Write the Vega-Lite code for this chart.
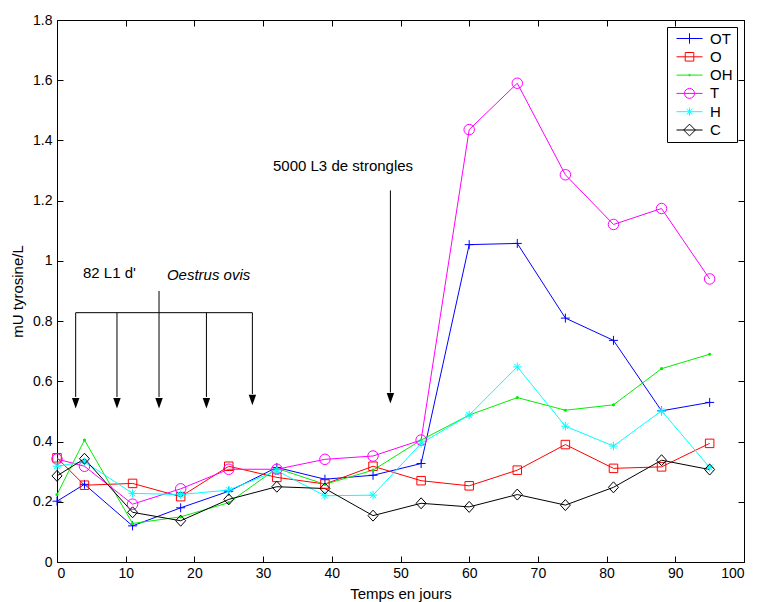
{
  "$schema": "https://vega.github.io/schema/vega-lite/v6.json",
  "width": 687,
  "height": 542,
  "autosize": {"type": "none"},
  "padding": {"left": 57, "top": 20, "right": 13, "bottom": 40},
  "background": "white",
  "config": {
    "font": "Liberation Sans",
    "view": {"stroke": null},
    "axis": {
      "domainColor": "black",
      "tickColor": "black",
      "labelColor": "black",
      "titleColor": "black",
      "grid": false,
      "labelFontSize": 14,
      "titleFontSize": 15,
      "titleFontWeight": "normal",
      "tickSize": -6,
      "domainWidth": 1,
      "tickWidth": 1
    }
  },
  "datasets": {
    "series": [
      {"day": 0, "group": "OT", "value": 0.202},
      {"day": 4, "group": "OT", "value": 0.258},
      {"day": 11, "group": "OT", "value": 0.12},
      {"day": 18, "group": "OT", "value": 0.18},
      {"day": 25, "group": "OT", "value": 0.235},
      {"day": 32, "group": "OT", "value": 0.314},
      {"day": 39, "group": "OT", "value": 0.275},
      {"day": 46, "group": "OT", "value": 0.288},
      {"day": 53, "group": "OT", "value": 0.327},
      {"day": 60, "group": "OT", "value": 1.054},
      {"day": 67, "group": "OT", "value": 1.058},
      {"day": 74, "group": "OT", "value": 0.81},
      {"day": 81, "group": "OT", "value": 0.736},
      {"day": 88, "group": "OT", "value": 0.502},
      {"day": 95, "group": "OT", "value": 0.53},
      {"day": 0, "group": "O", "value": 0.346},
      {"day": 4, "group": "O", "value": 0.255},
      {"day": 11, "group": "O", "value": 0.261},
      {"day": 18, "group": "O", "value": 0.217},
      {"day": 25, "group": "O", "value": 0.318},
      {"day": 32, "group": "O", "value": 0.281},
      {"day": 39, "group": "O", "value": 0.259},
      {"day": 46, "group": "O", "value": 0.318},
      {"day": 53, "group": "O", "value": 0.27},
      {"day": 60, "group": "O", "value": 0.253},
      {"day": 67, "group": "O", "value": 0.305},
      {"day": 74, "group": "O", "value": 0.39},
      {"day": 81, "group": "O", "value": 0.311},
      {"day": 88, "group": "O", "value": 0.316},
      {"day": 95, "group": "O", "value": 0.394},
      {"day": 0, "group": "OH", "value": 0.224},
      {"day": 4, "group": "OH", "value": 0.405},
      {"day": 11, "group": "OH", "value": 0.128},
      {"day": 18, "group": "OH", "value": 0.15},
      {"day": 25, "group": "OH", "value": 0.197},
      {"day": 32, "group": "OH", "value": 0.311},
      {"day": 39, "group": "OH", "value": 0.258},
      {"day": 46, "group": "OH", "value": 0.305},
      {"day": 53, "group": "OH", "value": 0.405},
      {"day": 60, "group": "OH", "value": 0.488},
      {"day": 67, "group": "OH", "value": 0.546},
      {"day": 74, "group": "OH", "value": 0.504},
      {"day": 81, "group": "OH", "value": 0.522},
      {"day": 88, "group": "OH", "value": 0.642},
      {"day": 95, "group": "OH", "value": 0.69},
      {"day": 0, "group": "T", "value": 0.342},
      {"day": 4, "group": "T", "value": 0.318},
      {"day": 11, "group": "T", "value": 0.192},
      {"day": 18, "group": "T", "value": 0.243},
      {"day": 25, "group": "T", "value": 0.308},
      {"day": 32, "group": "T", "value": 0.308},
      {"day": 39, "group": "T", "value": 0.341},
      {"day": 46, "group": "T", "value": 0.352},
      {"day": 53, "group": "T", "value": 0.405},
      {"day": 60, "group": "T", "value": 1.436},
      {"day": 67, "group": "T", "value": 1.59},
      {"day": 74, "group": "T", "value": 1.286},
      {"day": 81, "group": "T", "value": 1.121},
      {"day": 88, "group": "T", "value": 1.174},
      {"day": 95, "group": "T", "value": 0.94},
      {"day": 0, "group": "H", "value": 0.318},
      {"day": 4, "group": "H", "value": 0.333},
      {"day": 11, "group": "H", "value": 0.228},
      {"day": 18, "group": "H", "value": 0.224},
      {"day": 25, "group": "H", "value": 0.239},
      {"day": 32, "group": "H", "value": 0.303},
      {"day": 39, "group": "H", "value": 0.22},
      {"day": 46, "group": "H", "value": 0.222},
      {"day": 53, "group": "H", "value": 0.394},
      {"day": 60, "group": "H", "value": 0.488},
      {"day": 67, "group": "H", "value": 0.648},
      {"day": 74, "group": "H", "value": 0.451},
      {"day": 81, "group": "H", "value": 0.385},
      {"day": 88, "group": "H", "value": 0.502},
      {"day": 95, "group": "H", "value": 0.314},
      {"day": 0, "group": "C", "value": 0.286},
      {"day": 4, "group": "C", "value": 0.343},
      {"day": 11, "group": "C", "value": 0.165},
      {"day": 18, "group": "C", "value": 0.137},
      {"day": 25, "group": "C", "value": 0.208},
      {"day": 32, "group": "C", "value": 0.25},
      {"day": 39, "group": "C", "value": 0.244},
      {"day": 46, "group": "C", "value": 0.154},
      {"day": 53, "group": "C", "value": 0.195},
      {"day": 60, "group": "C", "value": 0.183},
      {"day": 67, "group": "C", "value": 0.224},
      {"day": 74, "group": "C", "value": 0.189},
      {"day": 81, "group": "C", "value": 0.248},
      {"day": 88, "group": "C", "value": 0.338},
      {"day": 95, "group": "C", "value": 0.307}
    ],
    "arrows": [
      {"x": 2.72, "top": 0.828, "bottom": 0.548, "head": 0.527},
      {"x": 8.73, "top": 0.828, "bottom": 0.548, "head": 0.527},
      {"x": 14.85, "top": 0.9, "bottom": 0.548, "head": 0.527},
      {"x": 21.75, "top": 0.828, "bottom": 0.548, "head": 0.527},
      {"x": 28.44, "top": 0.828, "bottom": 0.558, "head": 0.538},
      {"x": 48.53, "top": 1.234, "bottom": 0.563, "head": 0.544}
    ],
    "bracket": [
      {"x": 2.72, "x2": 28.44, "y": 0.828}
    ],
    "labels": [
      {"x": 3.78, "y": 0.943, "text": "82 L1 d'"},
      {"x": 31.44, "y": 1.297, "text": "5000 L3 de strongles"}
    ],
    "italic": [
      {"x": 16.0, "y": 0.937, "text": "Oestrus ovis"}
    ]
  },
  "layer": [
    {
      "data": {"name": "series"},
      "mark": {"type": "line", "strokeWidth": 1},
      "encoding": {
        "x": {
          "field": "day", "type": "quantitative",
          "scale": {"domain": [0, 100], "nice": false, "zero": false},
          "axis": {"title": "Temps en jours", "values": [0,10,20,30,40,50,60,70,80,90,100], "labelPadding": 10, "titlePadding": 6, "orient": "bottom"}
        },
        "y": {
          "field": "value", "type": "quantitative",
          "scale": {"domain": [0, 1.8], "nice": false},
          "axis": {"title": "mU tyrosine/L", "values": [0,0.2,0.4,0.6,0.8,1,1.2,1.4,1.6,1.8], "format": "~g", "labelPadding": 11, "titlePadding": 7, "orient": "left"}
        },
        "color": {
          "field": "group", "type": "nominal",
          "scale": {"domain": ["OT","O","OH","T","H","C"], "range": ["#0000ff","#ff0000","#00ee00","#ff00ff","#00ffff","#000000"]},
          "legend": {
            "title": null,
            "orient": "top-right",
            "offset": 7,
            "padding": 4,
            "strokeColor": "black",
            "fillColor": "white",
            "cornerRadius": 0,
            "symbolSize": 676,
            "symbolOffset": 5,
            "clipHeight": 15,
            "labelOffset": 7,
            "labelFontSize": 15,
            "labelColor": "black",
            "rowPadding": 2.3,
            "encode": {
              "symbols": {
                "update": {
                  "shape": {"signal": "datum.value === 'OT' ? 'M-1,0H1M0,-0.4V0.4' : datum.value === 'O' ? 'M-1,0H1M-0.33,-0.33H0.33V0.33H-0.33Z' : datum.value === 'OH' ? 'M-1,0H1M-0.06,0A0.06,0.06 0 1,1 0.06,0A0.06,0.06 0 1,1 -0.06,0Z' : datum.value === 'T' ? 'M-1,0H1M-0.385,0A0.385,0.385 0 1,1 0.385,0A0.385,0.385 0 1,1 -0.385,0Z' : datum.value === 'H' ? 'M-1,0H1M0,-0.31V0.31M-0.22,-0.22L0.22,0.22M-0.22,0.22L0.22,-0.22' : 'M-1,0H1M0,-0.45L0.45,0L0,0.45L-0.45,0Z'"},
                  "fill": {"value": "transparent"},
                  "strokeWidth": {"value": 1},
                  "opacity": {"value": 1}
                }
              }
            }
          }
        }
      }
    },
    {
      "data": {"name": "series"},
      "transform": [{"filter": {"field": "group", "equal": "OT"}}],
      "mark": {"type": "point", "filled": false, "strokeWidth": 1, "size": 100, "opacity": 1, "color": "#0000ff", "shape": "M-0.9,0H0.9M0,-0.9V0.9"},
      "encoding": {
        "x": {"field": "day", "type": "quantitative", "axis": null},
        "y": {"field": "value", "type": "quantitative", "axis": null}
      }
    },
    {
      "data": {"name": "series"},
      "transform": [{"filter": {"field": "group", "equal": "O"}}],
      "mark": {"type": "point", "filled": false, "strokeWidth": 1, "size": 100, "opacity": 1, "color": "#ff0000", "shape": "M-0.85,-0.85H0.85V0.85H-0.85Z"},
      "encoding": {
        "x": {"field": "day", "type": "quantitative", "axis": null},
        "y": {"field": "value", "type": "quantitative", "axis": null}
      }
    },
    {
      "data": {"name": "series"},
      "transform": [{"filter": {"field": "group", "equal": "OH"}}],
      "mark": {"type": "point", "filled": true, "size": 10, "opacity": 1, "color": "#00ee00", "shape": "circle"},
      "encoding": {
        "x": {"field": "day", "type": "quantitative", "axis": null},
        "y": {"field": "value", "type": "quantitative", "axis": null}
      }
    },
    {
      "data": {"name": "series"},
      "transform": [{"filter": {"field": "group", "equal": "T"}}],
      "mark": {"type": "point", "filled": false, "strokeWidth": 1, "size": 100, "opacity": 1, "color": "#ff00ff", "shape": "M-1.05,0A1.05,1.05 0 1,1 1.05,0A1.05,1.05 0 1,1 -1.05,0Z"},
      "encoding": {
        "x": {"field": "day", "type": "quantitative", "axis": null},
        "y": {"field": "value", "type": "quantitative", "axis": null}
      }
    },
    {
      "data": {"name": "series"},
      "transform": [{"filter": {"field": "group", "equal": "H"}}],
      "mark": {"type": "point", "filled": false, "strokeWidth": 1, "size": 100, "opacity": 1, "color": "#00ffff", "shape": "M-0.85,0H0.85M0,-0.85V0.85M-0.6,-0.6L0.6,0.6M-0.6,0.6L0.6,-0.6"},
      "encoding": {
        "x": {"field": "day", "type": "quantitative", "axis": null},
        "y": {"field": "value", "type": "quantitative", "axis": null}
      }
    },
    {
      "data": {"name": "series"},
      "transform": [{"filter": {"field": "group", "equal": "C"}}],
      "mark": {"type": "point", "filled": false, "strokeWidth": 1, "size": 100, "opacity": 1, "color": "#000000", "shape": "M0,-1.1L1,0L0,1.1L-1,0Z"},
      "encoding": {
        "x": {"field": "day", "type": "quantitative", "axis": null},
        "y": {"field": "value", "type": "quantitative", "axis": null}
      }
    },
    {
      "data": {"name": "arrows"},
      "mark": {"type": "rule", "color": "black", "strokeWidth": 1},
      "encoding": {
        "x": {"field": "x", "type": "quantitative", "axis": {"orient": "top", "labels": false, "title": null, "values": [0,10,20,30,40,50,60,70,80,90,100]}},
        "y": {"field": "top", "type": "quantitative", "axis": {"orient": "right", "labels": false, "title": null, "values": [0,0.2,0.4,0.6,0.8,1,1.2,1.4,1.6,1.8]}},
        "y2": {"field": "bottom"}
      }
    },
    {
      "data": {"name": "bracket"},
      "mark": {"type": "rule", "color": "black", "strokeWidth": 1},
      "encoding": {
        "x": {"field": "x", "type": "quantitative", "axis": null},
        "x2": {"field": "x2"},
        "y": {"field": "y", "type": "quantitative", "axis": null}
      }
    },
    {
      "data": {"name": "arrows"},
      "mark": {"type": "point", "filled": true, "color": "black", "opacity": 1, "size": 112, "shape": "M-0.7,-1L0.7,-1L0,1Z"},
      "encoding": {
        "x": {"field": "x", "type": "quantitative", "axis": null},
        "y": {"field": "head", "type": "quantitative", "axis": null}
      }
    },
    {
      "data": {"name": "labels"},
      "mark": {"type": "text", "align": "left", "baseline": "alphabetic", "fontSize": 15, "color": "black"},
      "encoding": {
        "x": {"field": "x", "type": "quantitative", "axis": null},
        "y": {"field": "y", "type": "quantitative", "axis": null},
        "text": {"field": "text"}
      }
    },
    {
      "data": {"name": "italic"},
      "mark": {"type": "text", "align": "left", "baseline": "alphabetic", "fontSize": 15, "fontStyle": "italic", "color": "black"},
      "encoding": {
        "x": {"field": "x", "type": "quantitative", "axis": null},
        "y": {"field": "y", "type": "quantitative", "axis": null},
        "text": {"field": "text"}
      }
    }
  ],
  "resolve": {"axis": {"x": "independent", "y": "independent"}}
}
